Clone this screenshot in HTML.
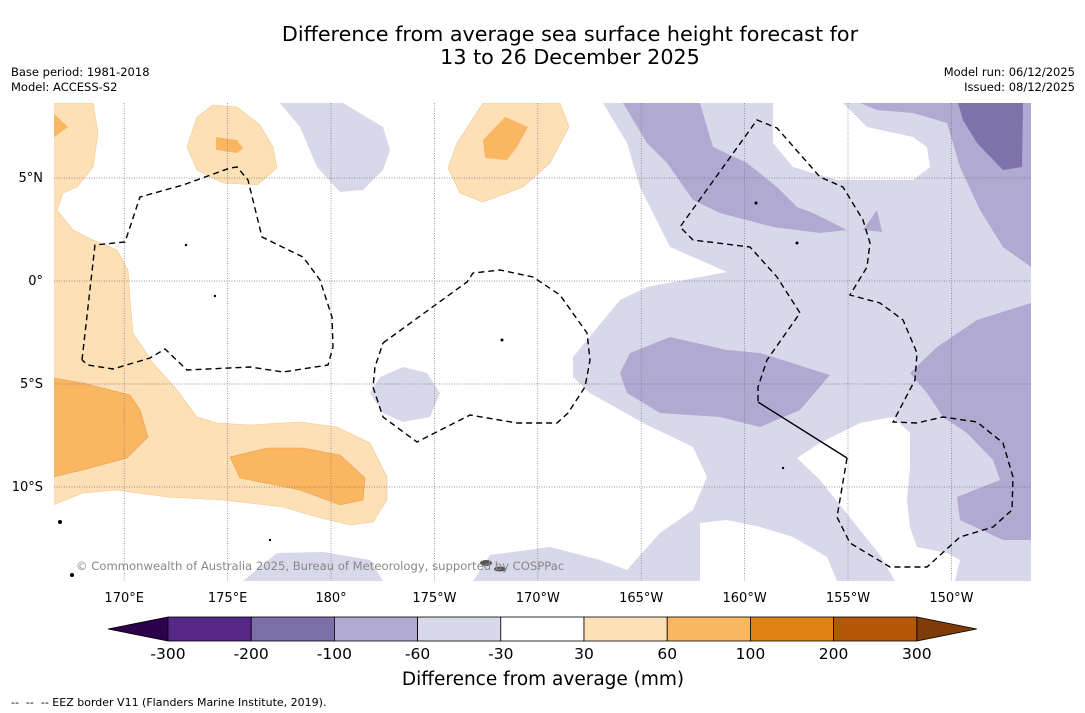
<!DOCTYPE html>
<html><head><meta charset="utf-8">
<style>
body{margin:0;background:#fff;width:1085px;height:713px;overflow:hidden;font-family:"DejaVu Sans","Liberation Sans",sans-serif}
svg{position:absolute;left:0;top:0}
</style></head>
<body>
<svg id="chart" width="1085" height="713" viewBox="0 0 1085 713" font-family="DejaVu Sans, Liberation Sans, sans-serif">
  <text x="570" y="41" font-size="20.7" text-anchor="middle">Difference from average sea surface height forecast for</text>
  <text x="570" y="64" font-size="20.7" text-anchor="middle">13 to 26 December 2025</text>
  <text x="11" y="76" font-size="11.5">Base period: 1981-2018</text>
  <text x="11" y="91" font-size="11.5">Model: ACCESS-S2</text>
  <text x="1075" y="76" font-size="11.5" text-anchor="end">Model run: 06/12/2025</text>
  <text x="1075" y="91" font-size="11.5" text-anchor="end">Issued: 08/12/2025</text>

  <g id="map">
    <clipPath id="clip"><rect x="54" y="103" width="977" height="478"/></clipPath>
    <g clip-path="url(#clip)">
      <polygon fill="#d8d8ea" points="603,103 1031,103 1031,581 473,581 490,555 550,547 600,560 627,570 660,533 693,510 707,477 693,447 643,423 590,393 573,377 573,357 620,300 647,287 727,272 670,247 640,187 627,143"/>
      <polygon fill="#fff" points="773,103 843,103 867,127 913,137 927,147 930,167 913,180 837,180 793,167 773,143"/>
      <polygon fill="#fff" points="700,523 727,520 760,527 793,537 827,557 837,581 700,581"/>
      <polygon fill="#fff" points="797,458 820,443 860,423 893,417 910,433 910,467 907,500 910,527 917,547 947,553 960,560 955,581 895,581 880,555 860,530 840,505 820,480"/>
      <polygon fill="#b0a9d1" points="623,103 700,103 713,147 747,163 777,187 797,207 813,213 847,230 820,233 773,227 720,213 693,200 667,163 647,143"/>
      <polygon fill="#b0a9d1" points="863,230 877,210 882,232"/>
      <polygon fill="#b0a9d1" points="860,103 1031,103 1031,267 1003,247 980,210 960,167 947,123 913,113 877,110"/>
      <polygon fill="#7f72aa" points="958,103 1023,103 1022,167 1003,170 977,143 963,120"/>
      <polygon fill="#b0a9d1" points="620,373 630,353 670,337 727,350 760,353 830,375 800,410 760,427 720,417 660,413 627,393"/>
      <polygon fill="#b0a9d1" points="910,373 937,347 977,320 1031,303 1031,540 1003,540 960,520 957,497 1000,480 993,460 967,433 943,417 927,393"/>
      <polygon fill="#fde0b6" stroke="#f0c890" stroke-width="0.6" points="53,103 93,103 98,133 93,167 77,187 63,193 57,210 73,230 93,240 117,250 128,270 130,300 133,333 153,363 177,390 197,417 217,423 250,425 300,422 337,427 370,443 387,477 387,500 373,522 350,525 317,517 283,507 223,500 167,497 117,490 83,493 53,505"/>
      <polygon fill="#fbb662" stroke="#e8a050" stroke-width="0.6" points="53,378 83,383 130,395 140,410 148,437 127,458 83,470 53,477"/>
      <polygon fill="#fbb662" points="53,113 68,127 53,138"/>
      <polygon fill="#fbb662" stroke="#e8a050" stroke-width="0.6" points="230,457 267,448 303,448 340,455 365,478 363,500 340,505 300,490 240,478"/>
      <polygon fill="#fde0b6" stroke="#f0c890" stroke-width="0.6" points="187,147 197,117 213,105 237,107 260,125 273,147 277,168 257,185 223,183 197,170"/>
      <polygon fill="#fbb662" points="216,137 237,140 243,148 237,153 216,150"/>
      <polygon fill="#fde0b6" stroke="#f0c890" stroke-width="0.6" points="448,168 457,143 483,103 560,103 569,127 550,163 523,187 483,202 460,193"/>
      <polygon fill="#fbb662" points="483,140 505,117 528,127 517,147 507,160 485,158"/>
      <polygon fill="#d8d8ea" points="280,103 343,103 383,127 390,150 383,170 363,190 340,192 317,167 300,127"/>
      <polygon fill="#d8d8ea" points="370,393 380,377 403,367 427,373 440,393 430,417 403,422 383,413"/>
      <polygon fill="#d8d8ea" points="243,581 277,553 323,552 370,560 383,581"/>
      <g id="grid" stroke="#777" stroke-width="0.7" stroke-dasharray="1,1.5"></g>
      <g fill="none" stroke="#000" stroke-width="1.4" stroke-dasharray="6,4">
        <polyline points="82,360 95,245 125,242 140,197 183,185 230,168 237,167 248,180 262,237 303,257 320,280 332,317 333,347 328,365 283,372 250,367 187,370 165,349 150,358 113,369 88,365 82,360"/>
        <polyline points="383,343 467,282 473,273 500,270 533,277 560,295 587,333 590,360 585,387 568,413 557,423 517,423 470,415 417,442 383,417 373,387 375,367 383,343"/>
        <polyline points="847,458 837,517 850,543 890,567 927,567 960,537 993,527 1012,510 1013,477 1003,443 977,422 943,417 917,423 893,422 915,380 917,353 903,320 880,303 850,295 867,267 870,243 863,220 843,187 820,177 777,128 757,120 680,227 693,240 750,247 777,277 800,313 767,360 758,387 758,402"/>
      </g>
      <line x1="758" y1="402" x2="847" y2="458" stroke="#000" stroke-width="1.4"/>
      <g fill="#000">
        <circle cx="60" cy="522" r="2"/><circle cx="72" cy="575" r="2"/><circle cx="186" cy="245" r="1.2"/><circle cx="215" cy="296" r="1.2"/><circle cx="502" cy="340" r="1.5"/><circle cx="756" cy="203" r="1.5"/><circle cx="797" cy="243" r="1.5"/><circle cx="783" cy="468" r="1.2"/><circle cx="270" cy="540" r="1.2"/>
        <ellipse cx="486" cy="563" rx="6" ry="3" fill="#555"/><ellipse cx="500" cy="569" rx="6" ry="2.5" fill="#555"/>
      </g>
      <text x="76" y="570" font-size="11.6" fill="#888">© Commonwealth of Australia 2025, Bureau of Meteorology, supported by COSPPac</text>
    </g>
  </g>
  <g id="axes" font-size="13"></g>
  <g id="colorbar"></g>
  <text x="543" y="685" font-size="18.5" text-anchor="middle">Difference from average (mm)</text>
  <text x="11" y="706" font-size="11" xml:space="preserve">--  --  -- EEZ border V11 (Flanders Marine Institute, 2019).</text>
</svg>
<script>
const lonTicks=[170,175,180,185,190,195,200,205,210];
const lonLabels=["170°E","175°E","180°","175°W","170°W","165°W","160°W","155°W","150°W"];
const latTicks=[5,0,-5,-10];
const latLabels=["5°N","0°","5°S","10°S"];
const cbLevels=[-300,-200,-100,-60,-30,30,60,100,200,300];
const cbColors=["#542788","#7b6ea9","#b0a9d1","#d8d8ea","#ffffff","#fde0b6","#fbb662","#e08214","#b35806"];
const cbUnder="#2d004b", cbOver="#7f3b08";
const NS="http://www.w3.org/2000/svg";
function lonX(l){return 331+(l-180)*20.68;}
function latY(l){return 281-l*20.6;}
const grid=document.getElementById('grid'),axes=document.getElementById('axes');
lonTicks.forEach((t,i)=>{
  const ln=document.createElementNS(NS,'line');
  
  
  ln.setAttribute('x1',lonX(t));ln.setAttribute('x2',lonX(t));ln.setAttribute('y1',103);ln.setAttribute('y2',581);
  grid.appendChild(ln);
  const tx=document.createElementNS(NS,'text');
  
  
  tx.setAttribute('x',lonX(t));tx.setAttribute('y',602);tx.setAttribute('text-anchor','middle');
  tx.textContent=lonLabels[i];axes.appendChild(tx);
});
latTicks.forEach((t,i)=>{
  const ln=document.createElementNS(NS,'line');
  
  
  ln.setAttribute('x1',54);ln.setAttribute('x2',1031);ln.setAttribute('y1',latY(t));ln.setAttribute('y2',latY(t));
  grid.appendChild(ln);
  const tx=document.createElementNS(NS,'text');
  
  
  tx.setAttribute('x',43);tx.setAttribute('y',latY(t)+4);tx.setAttribute('text-anchor','end');
  tx.textContent=latLabels[i];axes.appendChild(tx);
});
const cb=document.getElementById('colorbar');
const cx0=168,cw=83.2,cy=617,ch=24;
function cbX(i){return cx0+i*cw;}
const u=document.createElementNS(NS,'polygon');


u.setAttribute('points',`${cbX(0)},${cy} 108,${cy+ch/2} ${cbX(0)},${cy+ch}`);u.setAttribute('fill',cbUnder);u.setAttribute('stroke','#000');u.setAttribute('stroke-width','0.8');cb.appendChild(u);
const o=document.createElementNS(NS,'polygon');


const last=cbX(cbColors.length);
o.setAttribute('points',`${last},${cy} ${last+60},${cy+ch/2} ${last},${cy+ch}`);o.setAttribute('fill',cbOver);o.setAttribute('stroke','#000');o.setAttribute('stroke-width','0.8');cb.appendChild(o);
cbColors.forEach((c,i)=>{
  const r=document.createElementNS(NS,'rect');
  
  
  r.setAttribute('x',cbX(i));r.setAttribute('y',cy);r.setAttribute('width',cw);r.setAttribute('height',ch);
  r.setAttribute('fill',c);r.setAttribute('stroke','#000');r.setAttribute('stroke-width','0.8');cb.appendChild(r);
});
cbLevels.forEach((v,i)=>{
  const t=document.createElementNS(NS,'text');
  
  
  t.setAttribute('x',cbX(i));t.setAttribute('y',659);t.setAttribute('text-anchor','middle');t.setAttribute('font-size','15.5');
  t.textContent=v;cb.appendChild(t);
});
</script>
</body></html>
